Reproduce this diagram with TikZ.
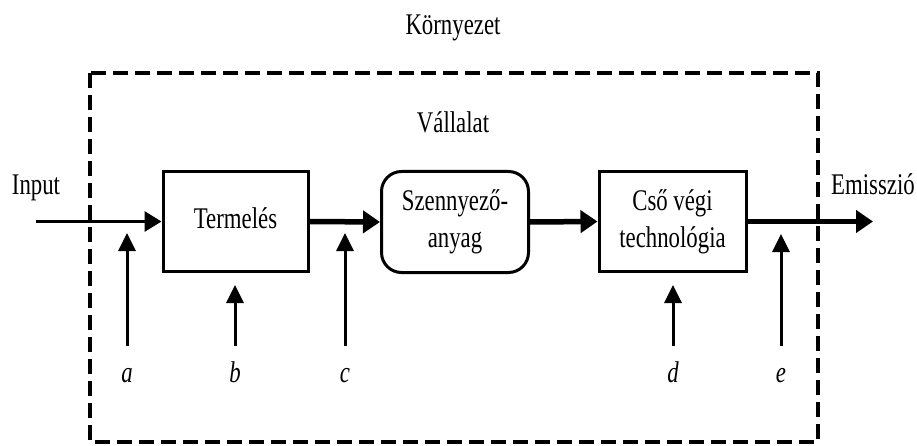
\documentclass[tikz,border=0pt]{standalone}
\usepackage{fontspec}
\setmainfont{Liberation Serif}[FakeStretch=0.76]
\usetikzlibrary{arrows.meta}

\tikzset{
  txt/.style={font=\fontsize{30}{36.7}\selectfont, inner sep=0pt},
  lbl/.style={txt, anchor=base},
  procbox/.style={draw, line width=3pt, txt, align=center},
  flatbox/.style={procbox, minimum width=145pt, minimum height=99pt},
  roundbox/.style={procbox, rounded corners=20pt,
                   minimum width=147pt, minimum height=101pt},
  thinflow/.style={line width=3pt, -{Triangle[length=17pt,width=20pt]}},
  thickflow/.style={line width=5.5pt, -{Triangle[length=17pt,width=22pt]}},
  probe/.style={line width=3pt, -{Triangle[length=18pt,width=17pt]}},
  boundary/.style={line width=4.5pt, dash pattern=on 15pt off 7pt}
}

\begin{document}
\begin{tikzpicture}[x=1pt, y=-1pt]
  \useasboundingbox (0,0) rectangle (917,446);

  % company boundary
  \draw[boundary] (90,73) rectangle (818,442);
  \node[lbl] (env) at (453,35) {Környezet};
  \node[lbl] (firm) at (453,133) {Vállalat};

  % process chain
  \node[flatbox, text height=21pt, text depth=7pt] (prod) at (235.5,221.5) {Termelés};
  \node[roundbox] (poll) at (455,222) {Szennyező-\\anyag};
  \node[flatbox, minimum width=147pt] (eop) at (672.5,221.5) {Cső végi\\technológia};

  \coordinate (in) at (36,221.5);
  \coordinate (out) at (873,221.5);
  \node[lbl] (inlbl) at (36,195) {Input};
  \node[lbl] (outlbl) at (873,195) {Emisszió};

  \draw[thinflow] (in) -- (prod.west);
  \draw[thickflow] (prod.east) -- (poll.west);
  \draw[thickflow] (poll.east) -- (eop.west);
  \draw[thickflow] (eop.east) -- (out);

  % measurement points
  \foreach \n/\x/\tip in {a/127/233, b/235/285, c/345/233, d/673/285, e/781/234}{
    \coordinate (\n foot) at (\x,346);
    \coordinate (\n tip) at (\x,\tip);
    \node[lbl] (\n lbl) at (\x,382) {\textit{\n}};
    \draw[probe] (\n foot) -- (\n tip);
  }
\end{tikzpicture}
\end{document}
